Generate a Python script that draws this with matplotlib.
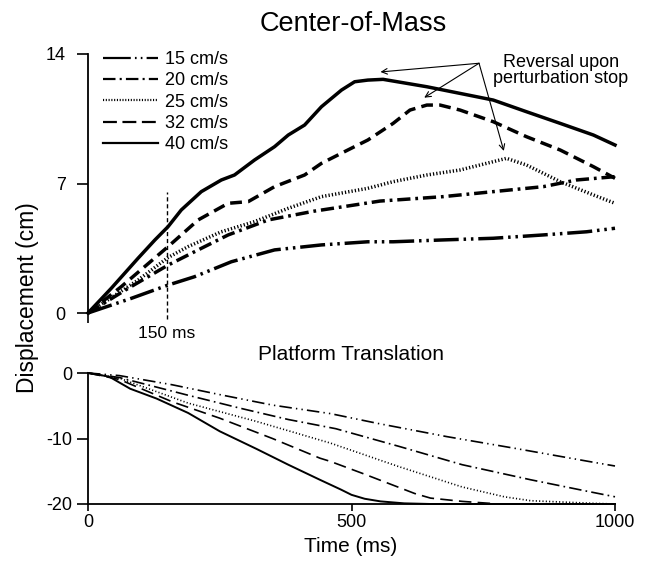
import matplotlib
matplotlib.use('Agg')
import matplotlib.pyplot as plt
from matplotlib.lines import Line2D
import numpy as np

plt.rcParams['font.family'] = ['Liberation Sans', 'DejaVu Sans']
plt.rcParams['lines.scale_dashes'] = False

speeds = ['15 cm/s', '20 cm/s', '25 cm/s', '32 cm/s', '40 cm/s']

# ---- Center-of-Mass displacement (cm) vs time (ms)
com_t_15 = [0, 82, 152, 202, 272, 354, 443, 531, 579, 674, 769, 864, 946, 1000]
com_y_15 = [0, 0.79, 1.51, 1.96, 2.77, 3.41, 3.68, 3.85, 3.85, 3.95, 4.04, 4.22, 4.39, 4.58]
com_t_20 = [0, 76, 152, 209, 266, 342, 428, 554, 674, 769, 864, 927, 1000]
com_y_20 = [0, 1.33, 2.59, 3.41, 4.22, 5.03, 5.5, 6.05, 6.29, 6.56, 6.83, 7.19, 7.37]
com_t_25 = [0, 95, 152, 190, 253, 316, 380, 443, 531, 579, 643, 706, 769, 794, 832, 896, 959, 1000]
com_y_25 = [0, 1.78, 3.0, 3.59, 4.39, 4.94, 5.66, 6.29, 6.74, 7.1, 7.46, 7.73, 8.18, 8.36, 8.0, 7.1, 6.38, 5.93]
com_t_32 = [0, 63, 152, 209, 266, 304, 354, 411, 443, 493, 531, 579, 611, 643, 668, 706, 769, 832, 896, 959, 1000]
com_y_32 = [0, 1.42, 3.59, 5.03, 5.93, 6.02, 6.83, 7.46, 8.09, 8.81, 9.35, 10.25, 10.97, 11.24, 11.24, 10.97, 10.34, 9.53, 8.81, 7.91, 7.28]
com_t_40 = [0, 44, 95, 127, 152, 177, 215, 253, 278, 316, 354, 380, 411, 443, 481, 506, 531, 560, 643, 706, 769, 832, 896, 959, 1000]
com_y_40 = [0, 1.33, 2.96, 3.95, 4.67, 5.57, 6.56, 7.19, 7.46, 8.27, 8.99, 9.62, 10.16, 11.15, 12.05, 12.5, 12.59, 12.63, 12.23, 11.87, 11.51, 10.88, 10.25, 9.62, 9.08]

# ---- Platform translation (cm) vs time (ms)
plat_t_15 = [0, 60, 160, 250, 350, 460, 550, 680, 810, 950, 1000]
plat_y_15 = [0, -0.4, -1.8, -3.3, -4.9, -6.2, -7.7, -9.7, -11.5, -13.5, -14.2]
plat_t_20 = [0, 60, 190, 290, 380, 470, 590, 710, 840, 950, 1000]
plat_y_20 = [0, -0.7, -3.4, -5.4, -7.1, -8.5, -11.2, -14.0, -16.3, -18.1, -18.9]
plat_t_25 = [0, 60, 190, 320, 460, 590, 710, 790, 840, 900, 960, 1000]
plat_y_25 = [0, -0.8, -4.6, -7.4, -10.7, -14.3, -17.4, -18.9, -19.5, -19.7, -19.9, -20]
plat_t_32 = [0, 60, 160, 250, 350, 440, 460, 520, 620, 650, 710, 780, 1000]
plat_y_32 = [0, -1.0, -4.4, -6.9, -10.0, -13.0, -13.5, -15.3, -18.4, -19.1, -19.6, -20, -20]
plat_t_40 = [0, 40, 80, 130, 190, 250, 320, 380, 440, 480, 500, 525, 555, 600, 650, 1000]
plat_y_40 = [0, -0.55, -2.4, -3.9, -6.1, -8.9, -11.6, -14.0, -16.3, -17.8, -18.6, -19.2, -19.6, -19.9, -20, -20]

com_t = [com_t_15, com_t_20, com_t_25, com_t_32, com_t_40]
com_y = [com_y_15, com_y_20, com_y_25, com_y_32, com_y_40]
plat_t = [plat_t_15, plat_t_20, plat_t_25, plat_t_32, plat_t_40]
plat_y = [plat_y_15, plat_y_20, plat_y_25, plat_y_32, plat_y_40]

marker_time = 150
reversal_series = [4, 3, 2]   # indices of 40, 32, 25 cm/s

# line styles (dash patterns in points)
top_dash = [(0, (18, 3.5, 1.8, 3.5, 1.8, 3.5)),
            (0, (9.5, 3.5, 2, 3.5)),
            (0, (0.9, 1.5)),
            (0, (8.5, 4.5)),
            'solid']
bot_dash = [(0, (9, 3, 1, 3, 1, 3)),
            (0, (9, 3, 1.2, 3)),
            (0, (0.8, 1.6)),
            (0, (9, 4.5)),
            'solid']
leg_dash = [(0, (20, 3, 1.2, 3, 1.2, 3)),
            (0, (9, 3, 1.5, 3)),
            (0, (0.8, 1.2)),
            (0, (10, 4)),
            'solid']

fig = plt.figure(figsize=(6.5, 5.62), dpi=100)
W, H = 650, 562
ax1 = fig.add_axes([88 / W, 1 - 313 / H, 527 / W, 259 / H])
ax2 = fig.add_axes([88 / W, 1 - 504 / H, 527 / W, 131 / H])

for i in range(5):
    ax1.plot(com_t[i], com_y[i], color='black', lw=2.5, linestyle=top_dash[i],
             dash_capstyle='butt', clip_on=False)
    ax2.plot(plat_t[i], plat_y[i], color='black', lw=1.4 if i == 4 else 1.2,
             linestyle=bot_dash[i], dash_capstyle='butt', clip_on=False)

# top axes styling
ax1.set_xlim(0, 1000)
ax1.set_ylim(0, 14)
for s in ['top', 'right', 'bottom']:
    ax1.spines[s].set_visible(False)
ax1.spines['left'].set_linewidth(1.3)
ax1.set_yticks([0, 7, 14])
ax1.set_yticklabels(['0', '7', '14'])
ax1.set_xticks([0])
ax1.set_xticklabels([''])
ax1.tick_params(axis='y', length=8, width=1.2, pad=8, labelsize=13)
ax1.tick_params(axis='x', length=7, width=1.2)

# 150 ms marker
ax1.vlines(marker_time, -0.3, 6.55, colors='black', linestyles=(0, (3, 2)), lw=1.0, clip_on=False)
ax1.text(marker_time, -1.1, '150 ms', ha='center', va='center', fontsize=12.5)

# annotation for reversal
ax1.text(897, 13.1, 'Reversal upon\nperturbation stop', ha='center', va='center',
         fontsize=13, linespacing=0.92, clip_on=False)
for idx in reversal_series:
    yarr = np.array(com_y[idx])
    k = int(np.argmax(yarr))
    tip = (com_t[idx][k] - 5, yarr[k] + 0.4)
    ax1.annotate('', xy=tip, xytext=(742, 13.5),
                 arrowprops=dict(arrowstyle='->', lw=0.8, color='black',
                                 shrinkA=0, shrinkB=0, mutation_scale=10))

# legend
handles = [Line2D([0], [0], color='black', lw=1.6, linestyle=leg_dash[i], dash_capstyle='butt')
           for i in range(5)]
fig.legend(handles, speeds, loc='upper left', bbox_to_anchor=(103 / W, 1 - 51 / H),
           frameon=False, fontsize=13, handlelength=3.05, handletextpad=0.4,
           labelspacing=0.24, borderpad=0, borderaxespad=0)

# bottom axes styling
ax2.set_xlim(0, 1000)
ax2.set_ylim(-20, 0)
for s in ['top', 'right']:
    ax2.spines[s].set_visible(False)
ax2.spines['left'].set_linewidth(1.3)
ax2.spines['bottom'].set_linewidth(1.3)
ax2.set_yticks([0, -10, -20])
ax2.set_yticklabels(['0', '-10', '-20'])
ax2.set_xticks([0, 500, 1000])
ax2.set_xticklabels(['0', '500', '1000'])
ax2.tick_params(axis='y', length=8, width=1.2, pad=3, labelsize=13)
ax2.tick_params(axis='x', length=5, width=1.2, pad=2, labelsize=13)

fig.text(353 / W, 1 - 24 / H, 'Center-of-Mass', ha='center', va='center', fontsize=19.5)
fig.text(351 / W, 1 - 355 / H, 'Platform Translation', ha='center', va='center', fontsize=15)
fig.text(28 / W, 1 - 298 / H, 'Displacement (cm)', ha='center', va='center',
         rotation=90, fontsize=16.5)
fig.text(351 / W, 1 - 546 / H, 'Time (ms)', ha='center', va='center', fontsize=15)

fig.savefig('out.png', dpi=100)
